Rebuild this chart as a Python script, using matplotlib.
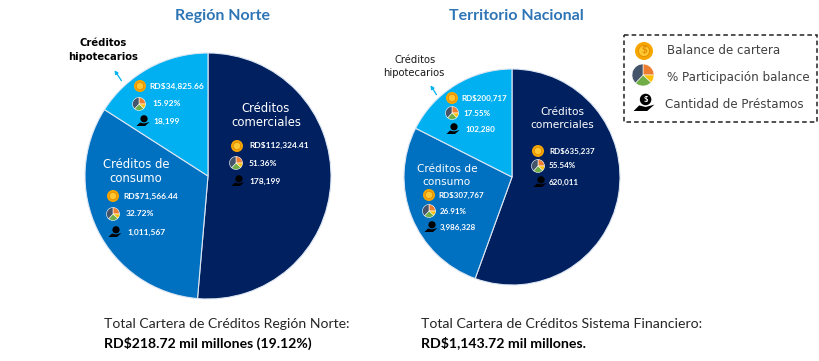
#!/usr/bin/env python
import matplotlib
matplotlib.use("Agg")
import matplotlib.pyplot as plt
from matplotlib.patches import Circle, Wedge, Rectangle, Polygon

# Values
categories = ["Créditos comerciales", "Créditos de consumo", "Créditos hipotecarios"]
norte_share = [51.36, 32.72, 15.92]
norte_balance = ["RD$112,324.41", "RD$71,566.44", "RD$34,825.66"]
norte_loans = ["178,199", "1,011,567", "18,199"]
nacional_share = [55.54, 26.91, 17.55]
nacional_balance = ["RD$635,237", "RD$307,767", "RD$200,717"]
nacional_loans = ["620,011", "3,986,328", "102,280"]
legend_labels = ["Balance de cartera", "% Participación balance", "Cantidad de Préstamos"]
icon_share = [25, 12, 25, 38]

SLICE_COLORS = ["#002060", "#0070C0", "#00B0F0"]
ICON_COLORS = ["#ED7D31", "#FFC000", "#70AD47", "#44546A"]
TITLE_COLOR = "#2E75B6"
plt.rcParams["font.family"] = ["Lato", "DejaVu Sans"]


def coin(ax, x, y, r=6, dollar=False):
    ax.add_patch(Circle((x, y), r, color="#F7A600", lw=0, zorder=5))
    ax.add_patch(Circle((x, y), r * 0.62, color="#FFC832", ec="#E08A00", lw=0.6, zorder=6))
    if dollar:
        ax.text(x, y, "$", color="#E08A00", fontsize=7, weight="bold", ha="center", va="center", zorder=7)


def mini_pie(ax, x, y, r=6.5):
    start = -90
    for share, color in zip(icon_share, ICON_COLORS):
        end = start + share * 3.6
        ax.add_patch(Wedge((x, y), r, start, end, fc=color, ec="white", lw=0.4, zorder=5))
        start = end


def hand(ax, x, y, s=1.0, dollar=False):
    ax.add_patch(Circle((x + 1 * s, y - 2.2 * s), 3.6 * s, color="black", lw=0, zorder=5))
    ax.add_patch(Polygon([(x - 6.5 * s, y + 5 * s), (x - 3 * s, y + 1.5 * s), (x + 1 * s, y + 2.5 * s),
                          (x + 6.5 * s, y + 1 * s), (x + 2 * s, y + 5 * s), (x - 3 * s, y + 5 * s)],
                         closed=True, color="black", lw=0, zorder=5))
    if dollar:
        ax.text(x + 1 * s, y - 2.2 * s, "$", color="white", fontsize=5.5, weight="bold",
                ha="center", va="center", zorder=7)


def stat_block(ax, icons_at, texts_at, balance, share, loans, size):
    coin(ax, *icons_at[0])
    mini_pie(ax, *icons_at[1])
    hand(ax, *icons_at[2])
    values = [balance, f"{share:.2f}%", loans]
    for (x, y), value in zip(texts_at, values):
        ax.text(x, y, value, color="white", fontsize=size, weight="bold", ha="left", va="center", zorder=6)


def draw_pie(ax, share, cx, cy, radius):
    ax.pie(share, colors=SLICE_COLORS, center=(cx, cy), radius=radius, startangle=-90,
           counterclock=True, wedgeprops={"edgecolor": "#DCE6F2", "linewidth": 0.8})


def centered(ax, x, y, text, color, size, weight="bold", family="Lato"):
    ax.text(x, y, text, color=color, fontsize=size, weight=weight, family=family,
            ha="center", va="center", zorder=6)


def main():
    fig = plt.figure(figsize=(8.2, 3.61), dpi=100)
    ax = fig.add_axes([0, 0, 1, 1])
    draw_pie(ax, norte_share, 208, 176, 123)
    draw_pie(ax, nacional_share, 512, 177, 108)
    ax.set_xlim(0, 820)
    ax.set_ylim(361, 0)
    ax.axis("off")

    centered(ax, 223, 16, "Región Norte", TITLE_COLOR, 11.5)
    centered(ax, 516, 16, "Territorio Nacional", TITLE_COLOR, 11.5)

    # Region Norte labels
    centered(ax, 266, 109, "Créditos", "white", 8.4, "normal", "DejaVu Sans")
    centered(ax, 266, 123, "comerciales", "white", 8.4, "normal", "DejaVu Sans")
    centered(ax, 136, 164, "Créditos de", "white", 8.4, "normal", "DejaVu Sans")
    centered(ax, 136, 179, "consumo", "white", 8.4, "normal", "DejaVu Sans")
    centered(ax, 103, 43, "Créditos", "black", 7.2, "bold", "DejaVu Sans")
    centered(ax, 103, 57, "hipotecarios", "black", 7.2, "bold", "DejaVu Sans")
    stat_block(ax, [(237, 146), (236, 163), (238, 181)], [(249, 145), (249, 163), (249, 181)],
               norte_balance[0], norte_share[0], norte_loans[0], 6)
    stat_block(ax, [(113, 196), (113, 214), (115, 232)], [(123, 196), (126, 214), (127, 232)],
               norte_balance[1], norte_share[1], norte_loans[1], 6)
    stat_block(ax, [(140, 86), (139, 104), (143, 121)], [(149, 86), (152, 104), (153, 121)],
               norte_balance[2], norte_share[2], norte_loans[2], 6)

    # Territorio Nacional labels
    centered(ax, 562, 112, "Créditos", "white", 7.6, "normal", "DejaVu Sans")
    centered(ax, 562, 125, "comerciales", "white", 7.6, "normal", "DejaVu Sans")
    centered(ax, 447, 169, "Créditos de", "white", 7.6, "normal", "DejaVu Sans")
    centered(ax, 447, 182, "consumo", "white", 7.6, "normal", "DejaVu Sans")
    centered(ax, 415, 60, "Créditos", "#1A1A1A", 7.2, "normal", "DejaVu Sans")
    centered(ax, 414, 73, "hipotecarios", "#1A1A1A", 7.2, "normal", "DejaVu Sans")
    stat_block(ax, [(538, 151), (538, 166), (540, 182)], [(549, 151), (549, 166), (549, 182)],
               nacional_balance[0], nacional_share[0], nacional_loans[0], 5.8)
    stat_block(ax, [(429, 195), (429, 211), (431, 227)], [(438, 195), (440, 211), (440, 227)],
               nacional_balance[1], nacional_share[1], nacional_loans[1], 5.8)
    stat_block(ax, [(452, 98), (452, 113), (453, 129)], [(461, 98), (463, 113), (465, 129)],
               nacional_balance[2], nacional_share[2], nacional_loans[2], 5.8)

    # Arrows from the small labels to the light blue slices
    for start, tip in [((123, 83), (113, 68)), ((438, 97), (429, 83))]:
        ax.annotate("", xy=tip, xytext=start, zorder=4,
                    arrowprops={"arrowstyle": "-|>", "color": "#00B0F0", "lw": 0.9, "mutation_scale": 5})

    # Legend box
    ax.add_patch(Rectangle((624, 35), 193, 87, fill=False, ec="#222222", lw=1.1, ls=(0, (3, 2)), zorder=3))
    coin(ax, 644, 51, 9, dollar=True)
    mini_pie(ax, 643, 75, 11)
    hand(ax, 644, 103, 1.6, dollar=True)
    for (x, y), label in zip([(667, 50), (667, 77), (665, 105)], legend_labels):
        ax.text(x, y, label, color="#404040", fontsize=8.6, family="DejaVu Sans", ha="left", va="center")

    # Totals under the pies
    ax.text(104, 324, "Total Cartera de Créditos Región Norte:", color="#262626", fontsize=10.1, va="center")
    ax.text(104, 343, "RD$218.72 mil millones (19.12%)", color="black", fontsize=10.1, weight="bold", va="center")
    ax.text(421, 324, "Total Cartera de Créditos Sistema Financiero:", color="#262626", fontsize=10.2, va="center")
    ax.text(421, 343, "RD$1,143.72 mil millones.", color="black", fontsize=10.2, weight="bold", va="center")

    fig.savefig("out.png", dpi=100, facecolor="white")


if __name__ == "__main__":
    main()
